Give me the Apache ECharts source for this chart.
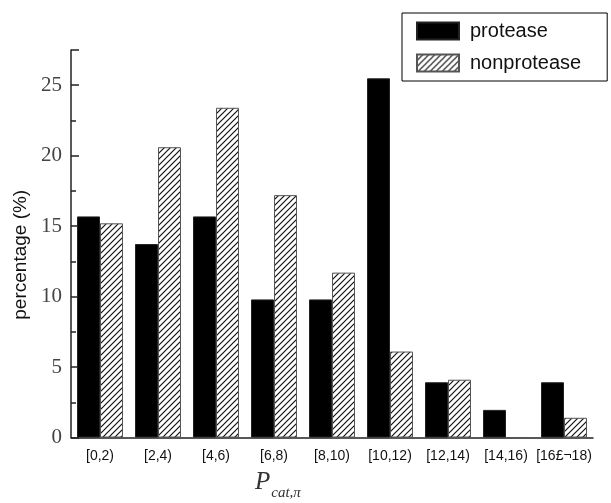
<!DOCTYPE html>
<html><head><meta charset="utf-8">
<script src="https://cdn.jsdelivr.net/npm/echarts@6/dist/echarts.min.js"></script>
<style>html,body{margin:0;padding:0;background:#fff}#c{width:611px;height:503px}</style>
</head><body><div id="c"></div>
<script>
const categories = ['[0,2)','[2,4)','[4,6)','[6,8)','[8,10)','[10,12)','[12,14)','[14,16)','[16£¬18)'];
const protease = [15.69,13.73,15.69,9.80,9.80,25.49,3.92,1.96,3.92];
const nonprotease = [15.2,20.6,23.4,17.2,11.7,6.1,4.1,0,1.4];
const yTickLabels = [0,5,10,15,20,25];

function hatch(){
  const s = 6, c = document.createElement('canvas');
  c.width = s; c.height = s;
  const x = c.getContext('2d');
  x.fillStyle = '#fff'; x.fillRect(0,0,s,s);
  x.strokeStyle = '#111'; x.lineWidth = 1.2;
  x.beginPath();
  x.moveTo(0,s); x.lineTo(s,0);
  x.moveTo(-1,1); x.lineTo(1,-1);
  x.moveTo(s-1,s+1); x.lineTo(s+1,s-1);
  x.stroke();
  return c;
}

const chart = echarts.init(document.getElementById('c'), null, {renderer:'canvas'});
chart.setOption({
  animation:false,
  backgroundColor:'#fff',
  grid:{left:71,right:18,top:50,bottom:65.5,containLabel:false},
  title:{
    text:'{p|P}{s|cat,π}',
    left:250, top:465,
    textStyle:{fontWeight:'normal',rich:{
      p:{fontFamily:'Liberation Serif',fontStyle:'italic',fontWeight:'normal',fontSize:25,color:'#333',verticalAlign:'bottom'},
      s:{fontFamily:'Liberation Serif',fontStyle:'italic',fontWeight:'normal',fontSize:15,color:'#333',verticalAlign:'bottom',padding:[0,0,-6,1]}
    }}
  },
  legend:{
    left:402, top:13, orient:'vertical',
    padding:[8,26,8,14], itemGap:12,
    itemWidth:42, itemHeight:17,
    borderColor:'#000', borderWidth:1,
    icon:'rect',
    textStyle:{fontFamily:'Liberation Sans',fontSize:20,color:'#111',padding:[0,0,0,6]},
    data:['protease','nonprotease']
  },
  xAxis:{
    type:'category', data:categories,
    axisLine:{lineStyle:{color:'#222',width:1.5}},
    axisTick:{show:false},
    axisLabel:{fontFamily:'Liberation Sans',fontSize:14,color:'#111',margin:12,interval:0}
  },
  yAxis:{
    type:'value', min:0, max:27.5, interval:5,
    name:'percentage (%)', nameLocation:'middle', nameGap:38,
    nameTextStyle:{fontFamily:'Liberation Sans',fontSize:19,color:'#111',padding:[0,22,0,0]},
    axisLine:{show:true,lineStyle:{color:'#222',width:1.5}},
    axisTick:{show:true,inside:true,length:8,lineStyle:{color:'#222',width:1.5}},
    minorTick:{show:true,splitNumber:2,length:5,lineStyle:{color:'#222',width:1.5}},
    splitLine:{show:false},
    axisLabel:{
      fontFamily:'Liberation Serif',fontSize:21,color:'#444',margin:9,
      formatter:v=> yTickLabels.indexOf(v)>=0 ? String(v) : ''
    }
  },
  series:[
    {name:'protease',type:'bar',data:protease,barWidth:23,barGap:'0%',
     itemStyle:{color:'#000',borderColor:'#222',borderWidth:1}},
    {name:'nonprotease',type:'bar',data:nonprotease,barWidth:23,barGap:'0%',
     itemStyle:{color:{image:hatch(),repeat:'repeat'},borderColor:'#555',borderWidth:1}}
  ]
});
</script></body></html>
